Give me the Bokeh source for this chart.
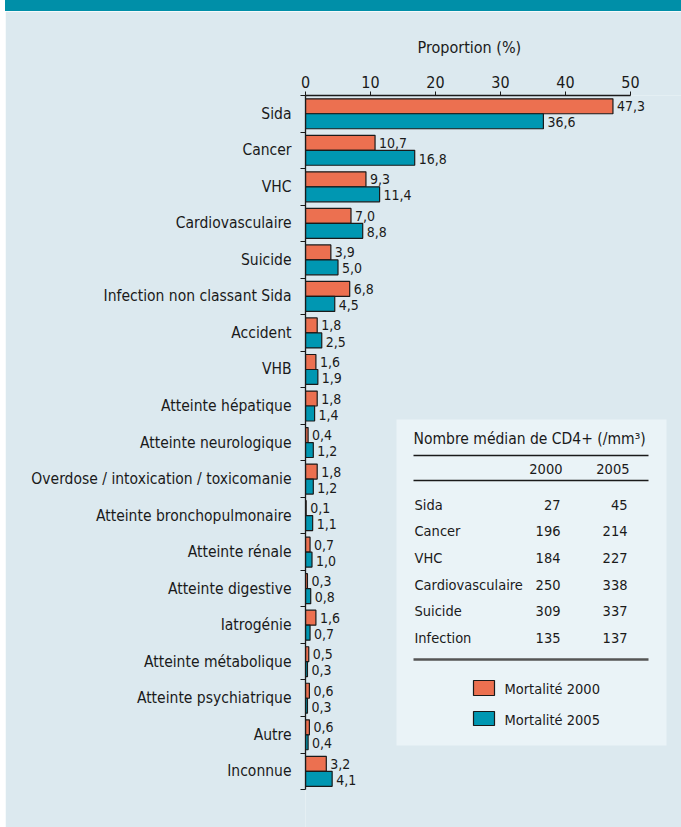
from bokeh.plotting import figure
from bokeh.models import (Range1d, FixedTicker, ColumnDataSource, BoxAnnotation, Div)
from bokeh.layouts import column, row
from bokeh.transform import dodge
from bokeh.core.properties import value
from bokeh.embed import file_html
from bokeh.resources import INLINE

# ---------------- data ----------------
categories = ["Sida", "Cancer", "VHC", "Cardiovasculaire", "Suicide",
              "Infection non classant Sida", "Accident", "VHB",
              "Atteinte hépatique", "Atteinte neurologique",
              "Overdose / intoxication / toxicomanie",
              "Atteinte bronchopulmonaire", "Atteinte rénale",
              "Atteinte digestive", "Iatrogénie", "Atteinte métabolique",
              "Atteinte psychiatrique", "Autre", "Inconnue"]
mort_2000 = [47.3, 10.7, 9.3, 7.0, 3.9, 6.8, 1.8, 1.6, 1.8, 0.4, 1.8, 0.1,
             0.7, 0.3, 1.6, 0.5, 0.6, 0.6, 3.2]
mort_2005 = [36.6, 16.8, 11.4, 8.8, 5.0, 4.5, 2.5, 1.9, 1.4, 1.2, 1.2, 1.1,
             1.0, 0.8, 0.7, 0.3, 0.3, 0.4, 4.1]
x_ticks = [0, 10, 20, 30, 40, 50]

table_title = "Nombre médian de CD4+ (/mm³)"
table_years = ["2000", "2005"]
cd4_causes = ["Sida", "Cancer", "VHC", "Cardiovasculaire", "Suicide", "Infection"]
cd4_2000 = [27, 196, 184, 250, 309, 135]
cd4_2005 = [45, 214, 227, 338, 337, 137]
legend_labels = ["Mortalité 2000", "Mortalité 2005"]

# ---------------- style ----------------
BG = "#dce9ef"
BOX = "#eaf3f7"
BAND = "#008fa8"
ORANGE = "#ec7050"
TEAL = "#0097b2"
INK = "#1a1a1a"
FONT = "DejaVu Sans Condensed, Roboto"

PAGE_X, PAGE_Y = 5, 11          # where the figure starts on the page
FIG_W, FIG_H = 681 - PAGE_X, 827 - PAGE_Y
AX_X, AX_Y = 305, 95            # page position of x=0 / top of first category
LEFT, TOP = AX_X - PAGE_X, AX_Y - PAGE_Y
PX_UNIT_X = 6.5
PX_UNIT_Y = 36.53
x_end = (FIG_W - LEFT) / PX_UNIT_X
y_end = -0.5 + (FIG_H - TOP) / PX_UNIT_Y

def dx(px):
    return (px - AX_X) / PX_UNIT_X

def dy(py):
    return (py - AX_Y) / PX_UNIT_Y - 0.5

n = len(categories)
fmt = lambda v: f"{v:.1f}".replace(".", ",")
src = ColumnDataSource(dict(
    y=list(range(n)),
    v2000=mort_2000, v2005=mort_2005,
    l2000=[fmt(v) for v in mort_2000], l2005=[fmt(v) for v in mort_2005],
))

p = figure(width=FIG_W, height=FIG_H, output_backend="svg", toolbar_location=None,
           x_range=Range1d(0, x_end), y_range=Range1d(y_end, -0.5),
           x_axis_location="above", min_border_left=LEFT, min_border_top=TOP,
           min_border_right=0, min_border_bottom=0)
p.background_fill_color = BG
p.border_fill_color = BG
p.outline_line_color = None
p.grid.visible = False

p.title.text = "Proportion (%)"
p.title.align = "left"
p.title.offset = 112
p.title.standoff = 32
p.title.text_font = FONT
p.title.text_font_size = "16px"
p.title.text_font_style = "normal"
p.title.text_color = INK

# table background box
p.add_layout(BoxAnnotation(left=dx(396), right=dx(666), top=dy(419), bottom=dy(745),
                           fill_color=BOX, fill_alpha=1, line_color=None, level="underlay"))

OFF = 0.205
H = 0.41
p.hbar(y=dodge("y", -OFF), left=0, right="v2000", height=H, source=src,
       fill_color=ORANGE, line_color=INK, line_width=1.2)
p.hbar(y=dodge("y", OFF), left=0, right="v2005", height=H, source=src,
       fill_color=TEAL, line_color=INK, line_width=1.2)
p.text(x="v2000", y=dodge("y", -OFF), text="l2000", source=src, x_offset=4,
       text_baseline="middle", text_font=value(FONT), text_font_size="14px", text_color=INK)
p.text(x="v2005", y=dodge("y", OFF + 0.03), text="l2005", source=src, x_offset=4,
       text_baseline="middle", text_font=value(FONT), text_font_size="14px", text_color=INK)

# axes
xa = p.xaxis[0]
xa.bounds = (0, 50)
xa.ticker = FixedTicker(ticks=x_ticks)
xa.major_label_text_font = FONT
xa.major_label_text_font_size = "16px"
xa.major_label_text_color = INK
xa.major_tick_out = 4
xa.major_tick_in = 0
xa.minor_tick_out = 0
xa.minor_tick_in = 0
xa.major_label_standoff = 4
xa.axis_line_width = 1.3
xa.axis_line_color = INK
xa.major_tick_line_color = INK

ya = p.yaxis[0]
ya.bounds = (-0.5, n - 0.5)
ya.ticker = FixedTicker(ticks=list(range(n)), minor_ticks=[i - 0.5 for i in range(n + 1)])
ya.major_label_overrides = {i: c for i, c in enumerate(categories)}
ya.major_tick_out = 0
ya.major_tick_in = 0
ya.minor_tick_out = 5
ya.minor_tick_in = 0
ya.minor_tick_line_color = INK
ya.minor_tick_line_width = 1.2
ya.major_label_standoff = 9
ya.major_label_text_font = FONT
ya.major_label_text_font_size = "15.5px"
ya.major_label_text_color = INK
ya.axis_line_width = 1.3
ya.axis_line_color = INK

# ---------------- CD4 table ----------------
p.text(x=[dx(413)], y=[dy(438)], text=[table_title], text_baseline="middle",
       text_font=value(FONT), text_font_size="15.5px", text_color=INK)
p.segment(x0=[dx(413), dx(413)], x1=[dx(648), dx(648)], y0=[dy(455), dy(480)],
          y1=[dy(455), dy(480)], line_color=INK, line_width=1.5)
p.segment(x0=[dx(413)], x1=[dx(648)], y0=[dy(659)], y1=[dy(659)],
          line_color="#555555", line_width=2.5)
p.text(x=[dx(562), dx(629)], y=[dy(468)] * 2, text=table_years, text_align="right",
       text_baseline="middle", text_font=value(FONT), text_font_size="14.5px", text_color=INK)
row_y = [dy(504 + 26.7 * i) for i in range(len(cd4_causes))]
p.text(x=[dx(414)] * len(cd4_causes), y=row_y, text=cd4_causes, text_baseline="middle",
       text_font=value(FONT), text_font_size="14.5px", text_color=INK)
p.text(x=[dx(560)] * len(cd4_causes), y=row_y, text=[str(v) for v in cd4_2000],
       text_align="right", text_baseline="middle", text_font=value(FONT),
       text_font_size="14.5px", text_color=INK)
p.text(x=[dx(627)] * len(cd4_causes), y=row_y, text=[str(v) for v in cd4_2005],
       text_align="right", text_baseline="middle", text_font=value(FONT),
       text_font_size="14.5px", text_color=INK)

# legend
p.quad(left=[dx(473)] * 2, right=[dx(494)] * 2, top=[dy(680), dy(711)],
       bottom=[dy(695), dy(725)], fill_color=[ORANGE, TEAL], line_color=INK, line_width=1.2)
p.text(x=[dx(504)] * 2, y=[dy(688), dy(719)], text=legend_labels, text_baseline="middle",
       text_font=value(FONT), text_font_size="14.5px", text_color=INK)

band = Div(width=FIG_W, height=PAGE_Y, styles={"background-color": BAND, "margin": "0"})
gap = Div(width=PAGE_X, height=827, styles={"background-color": "#ffffff", "margin": "0"})
layout = row(gap, column(band, p, spacing=0), spacing=0)

open("out.html", "w").write(file_html(layout, INLINE))
